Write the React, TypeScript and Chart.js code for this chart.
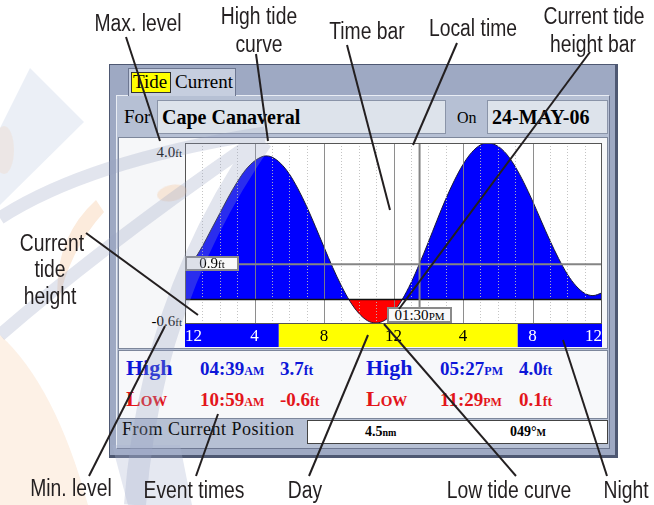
import React, { useEffect, useRef } from "react";
import { Chart, registerables } from "chart.js";

Chart.register(...registerables);

// ---------- data ----------
const HOURS = [0, 0.5, 1, 1.5, 2, 2.5, 3, 3.5, 4, 4.5, 4.65, 5, 5.5, 6, 6.5, 7, 7.5, 8, 8.5, 9, 9.5, 10, 10.5, 10.98, 11.5, 12, 12.5, 13, 13.5, 14, 14.5, 15, 15.5, 16, 16.5, 17, 17.4, 18, 18.5, 19, 19.5, 20, 20.5, 21, 21.5, 22, 22.5, 23, 23.48, 24];
const TIDE_FT = [0.72, 1.0, 1.36, 1.78, 2.2, 2.62, 3.0, 3.32, 3.54, 3.66, 3.67, 3.64, 3.48, 3.21, 2.83, 2.38, 1.87, 1.34, 0.82, 0.35, -0.05, -0.35, -0.54, -0.6, -0.53, -0.32, 0.0, 0.42, 0.92, 1.46, 2.02, 2.56, 3.04, 3.45, 3.76, 3.95, 4.0, 3.92, 3.72, 3.4, 2.99, 2.52, 2.01, 1.51, 1.05, 0.65, 0.35, 0.16, 0.1, 0.17];
const X_TICKS = [0, 4, 8, 12, 16, 20, 24];
const X_TICK_LABELS = ["12", "4", "8", "12", "4", "8", "12"];
const SUNRISE_H = 5.4;
const SUNSET_H = 19.15;
const Y_MIN = -0.6;
const Y_MAX = 4.0;
const NOW_H = 13.5;
const NOW_FT = 0.9;
const HIGH_TIMES = ["04:39", "05:27"];
const HIGH_AMPM = ["AM", "PM"];
const HIGH_FT = ["3.7", "4.0"];
const LOW_TIMES = ["10:59", "11:29"];
const LOW_AMPM = ["AM", "PM"];
const LOW_FT = ["-0.6", "0.1"];

const SERIF = "'Liberation Serif', 'Times New Roman', serif";
const SANS = "'Liberation Sans', Arial, sans-serif";
const INK = "#231f20";

const decor = {
  id: "tideDecor",
  beforeDraw(chart: any) {
    const { ctx, chartArea: a, scales } = chart;
    const x = scales.x;
    ctx.save();
    ctx.fillStyle = "#ffffff";
    ctx.fillRect(a.left, a.top, a.right - a.left, a.bottom - a.top);
    const segs: [number, number, string][] = [
      [0, SUNRISE_H, "#0000ff"],
      [SUNRISE_H, SUNSET_H, "#ffff00"],
      [SUNSET_H, 24, "#0000ff"],
    ];
    for (const [s, e, c] of segs) {
      const x0 = x.getPixelForValue(s);
      const x1 = x.getPixelForValue(e);
      ctx.fillStyle = c;
      ctx.fillRect(x0, a.bottom, x1 - x0, 24);
    }
    ctx.restore();
  },
  afterDatasetsDraw(chart: any) {
    const { ctx, chartArea: a, scales } = chart;
    const x = scales.x;
    const y = scales.y;
    ctx.save();
    for (let h = 1; h < 24; h++) {
      const px = Math.round(x.getPixelForValue(h)) + 0.5;
      ctx.beginPath();
      if (h % 4 === 0) {
        ctx.setLineDash([]);
        ctx.strokeStyle = "rgba(130,130,130,0.9)";
      } else {
        ctx.setLineDash([1, 2]);
        ctx.strokeStyle = "rgba(190,190,190,0.9)";
      }
      ctx.lineWidth = 1;
      ctx.moveTo(px, a.top);
      ctx.lineTo(px, a.bottom);
      ctx.stroke();
    }
    ctx.setLineDash([]);
    const y0 = y.getPixelForValue(0);
    ctx.strokeStyle = "#111";
    ctx.lineWidth = 1.5;
    ctx.beginPath();
    ctx.moveTo(a.left, y0);
    ctx.lineTo(a.right, y0);
    ctx.stroke();
    const yh = y.getPixelForValue(NOW_FT);
    ctx.strokeStyle = "#858585";
    ctx.lineWidth = 2;
    ctx.beginPath();
    ctx.moveTo(a.left, yh);
    ctx.lineTo(a.right, yh);
    ctx.stroke();
    const xt = x.getPixelForValue(NOW_H);
    ctx.beginPath();
    ctx.moveTo(xt, a.top);
    ctx.lineTo(xt, a.bottom - 10);
    ctx.stroke();
    ctx.strokeStyle = "#555";
    ctx.lineWidth = 1;
    ctx.strokeRect(a.left + 0.5, a.top + 0.5, a.right - a.left - 1, a.bottom - a.top);
    ctx.restore();
  },
};

function Ann({ x, y, text }: { x: number; y: number; text: string }) {
  return (
    <div
      style={{
        position: "absolute",
        left: x,
        top: y,
        transform: "translate(-50%,-50%) scaleX(0.84)",
        font: `23px ${SANS}`,
        color: INK,
        whiteSpace: "nowrap",
        lineHeight: 1,
      }}
    >
      {text}
    </div>
  );
}

function T({ x, y, size, children, style }: any) {
  return (
    <div
      style={{
        position: "absolute",
        left: x,
        top: y - 0.8375 * size,
        fontFamily: SERIF,
        fontSize: size,
        lineHeight: 1,
        whiteSpace: "nowrap",
        ...style,
      }}
    >
      {children}
    </div>
  );
}

const LINES: [number, number, number, number][] = [
  [126, 37, 160, 141],
  [256, 54, 268, 141],
  [347, 45, 390, 210],
  [457, 43, 413, 145],
  [590, 52, 399, 309],
  [86, 233, 198, 315],
  [165, 326, 89, 476],
  [218, 414, 196, 476],
  [368, 335, 309, 476],
  [384, 324, 516, 476],
  [563, 340, 607, 476],
];

export default function App() {
  const ref = useRef<HTMLCanvasElement>(null);
  useEffect(() => {
    const chart = new Chart(ref.current as HTMLCanvasElement, {
      type: "line",
      data: {
        datasets: [
          {
            data: HOURS.map((h, i) => ({ x: h, y: TIDE_FT[i] })),
            borderColor: "#1a1a3a",
            borderWidth: 1,
            pointRadius: 0,
            cubicInterpolationMode: "monotone",
            fill: { target: { value: 0 }, above: "#0000ff", below: "#ff0000" },
          } as any,
        ],
      },
      options: {
        animation: false,
        responsive: false,
        maintainAspectRatio: false,
        events: [],
        layout: { padding: { left: 185, top: 143, right: 52, bottom: 158 } },
        plugins: { legend: { display: false }, tooltip: { enabled: false } },
        scales: {
          x: {
            type: "linear",
            min: 0,
            max: 24,
            position: "bottom",
            afterBuildTicks: (s: any) => {
              s.ticks = X_TICKS.map((v) => ({ value: v }));
            },
            afterFit: (s: any) => {
              s.height = 24;
            },
            grid: { display: false, drawTicks: false },
            border: { display: false },
            ticks: {
              autoSkip: false,
              maxRotation: 0,
              align: "inner",
              padding: 3,
              callback: (_v: any, i: number) => X_TICK_LABELS[i],
              color: (c: any) =>
                c.tick && c.tick.value > SUNRISE_H && c.tick.value < SUNSET_H ? "#000" : "#fff",
              font: { family: "Liberation Serif", size: 17 },
            },
          } as any,
          y: { display: false, min: Y_MIN, max: Y_MAX },
        },
      },
      plugins: [decor],
    });
    return () => chart.destroy();
  }, []);

  const abs = (l: number, t: number, w: number, h: number, extra: any = {}) => ({
    position: "absolute" as const,
    left: l,
    top: t,
    width: w,
    height: h,
    boxSizing: "border-box" as const,
    ...extra,
  });

  const blue = "#0d17d8";
  const red = "#e3151b";

  return (
    <div style={abs(0, 0, 654, 505, { background: "#fff", overflow: "hidden" })}>
      {/* device frame */}
      <div style={abs(109, 64, 509, 394, { background: "#9ea9c3", border: "1px solid #4e5872", borderRightWidth: 3, borderBottomWidth: 3 })} />
      <div style={abs(116, 95, 494, 354, { background: "#b6c0d4", borderTop: "1px solid #e9edf4", borderLeft: "1px solid #e9edf4", borderRight: "1px solid #6d7791", borderBottom: "1px solid #6d7791" })} />
      {/* tabs */}
      <div style={abs(128, 68, 108, 28, { background: "#c6cedf", border: "1px solid #6d7791", borderBottom: "none" })} />
      <div style={abs(131, 72, 40, 21, { background: "#ffff00", border: "1px solid #333" })} />
      <T x={133} y={88} size={19}>Tide</T>
      <T x={175} y={88} size={19}>Current</T>
      {/* For row */}
      <T x={124} y={123} size={19}>For</T>
      <div style={abs(157, 100, 289, 34, { background: "#dde3eb", border: "1px solid #8a94a8" })} />
      <T x={162} y={124} size={20} style={{ fontWeight: "bold" }}>Cape Canaveral</T>
      <T x={457} y={123} size={16}>On</T>
      <div style={abs(487, 100, 121, 34, { background: "#dde3eb", border: "1px solid #8a94a8" })} />
      <T x={492} y={124} size={20} style={{ fontWeight: "bold" }}>24-MAY-06</T>
      {/* chart panel */}
      <div style={abs(118, 137, 490, 212, { background: "#f6f7f9", border: "1px solid #7d879b" })} />
      <div style={{ position: "absolute", right: 654 - 182, top: 144, font: `15px ${SERIF}`, lineHeight: "16px", whiteSpace: "nowrap" }}>
        4.0<span style={{ fontSize: 11 }}>ft</span>
      </div>
      <div style={{ position: "absolute", right: 654 - 182, top: 313, font: `15px ${SERIF}`, lineHeight: "16px", whiteSpace: "nowrap" }}>
        -0.6<span style={{ fontSize: 11 }}>ft</span>
      </div>
      {/* table */}
      <div style={abs(118, 350, 490, 69, { background: "#f7f8fa", border: "1px solid #7d879b" })} />
      {[0, 1].map((i) => (
        <React.Fragment key={"h" + i}>
          <T x={126 + i * 240} y={375} size={22} style={{ color: blue, fontWeight: "bold" }}>High</T>
          <T x={200 + i * 240} y={375} size={19} style={{ color: blue, fontWeight: "bold" }}>
            {HIGH_TIMES[i]}
            <span style={{ fontSize: 12 }}>{HIGH_AMPM[i]}</span>
          </T>
          <T x={280 + i * 239} y={375} size={19} style={{ color: blue, fontWeight: "bold" }}>
            {HIGH_FT[i]}
            <span style={{ fontSize: 14 }}>ft</span>
          </T>
          <T x={126 + i * 240} y={406} size={22} style={{ color: red, fontWeight: "bold", fontVariant: "small-caps" }}>Low</T>
          <T x={200 + i * 240} y={406} size={19} style={{ color: red, fontWeight: "bold" }}>
            {LOW_TIMES[i]}
            <span style={{ fontSize: 12 }}>{LOW_AMPM[i]}</span>
          </T>
          <T x={280 + i * 239} y={406} size={19} style={{ color: red, fontWeight: "bold" }}>
            {LOW_FT[i]}
            <span style={{ fontSize: 14 }}>ft</span>
          </T>
        </React.Fragment>
      ))}
      {/* from row */}
      <T x={122} y={435} size={18} style={{ letterSpacing: 0.5, color: "#111" }}>From Current Position</T>
      <div style={abs(307, 420, 301, 24, { background: "#fff", border: "1px solid #444" })} />
      <T x={365} y={437} size={14} style={{ fontWeight: "bold" }}>
        4.5<span style={{ fontSize: 10 }}>nm</span>
      </T>
      <T x={510} y={437} size={14} style={{ fontWeight: "bold" }}>
        049°<span style={{ fontSize: 10 }}>M</span>
      </T>

      <canvas ref={ref} width={654} height={505} style={abs(0, 0, 654, 505)} />

      {/* value boxes */}
      <div style={abs(185, 256, 54, 15, { background: "#f9f9f9", border: "2px solid #8a8a8a", font: `15px ${SERIF}`, lineHeight: "11px", textAlign: "center" })}>
        0.9<span style={{ fontSize: 11 }}>ft</span>
      </div>
      <div style={abs(387, 307, 65, 16, { background: "#f9f9f9", border: "2px solid #8a8a8a", font: `15px ${SERIF}`, lineHeight: "12px", textAlign: "center" })}>
        01:30<span style={{ fontSize: 11 }}>PM</span>
      </div>

      {/* watermark */}
      <svg width={654} height={505} style={{ position: "absolute", left: 0, top: 0, pointerEvents: "none" }}>
        <path d="M30,68 L84,122 L0,205 L0,128 Z" fill="#c5d0e4" opacity={0.35} />
        <g fill="#f5c59a" opacity={0.35}>
          <ellipse cx={172} cy={193} rx={15} ry={8} transform="rotate(-12 172 193)" />
          <path d="M96,200 Q52,240 58,305 Q68,252 104,212 Z" />
          <path d="M0,335 Q55,385 88,505 L0,505 Z" opacity={0.7} />
          <ellipse cx={4} cy={150} rx={10} ry={24} opacity={0.5} />
        </g>
        <g fill="none" stroke="#98a2c2" opacity={0.28}>
          <path d="M0,218 Q90,160 265,133" strokeWidth={13} />
          <path d="M0,335 Q110,240 262,136" strokeWidth={13} />
          <path d="M262,140 Q150,300 135,505" strokeWidth={22} />
        </g>
        <path d="M112,445 L180,445 L192,505 L128,505 Z" fill="#a9b3cf" opacity={0.3} />
      </svg>

      {/* leader lines */}
      <svg width={654} height={505} style={{ position: "absolute", left: 0, top: 0, pointerEvents: "none" }}>
        {LINES.map(([x1, y1, x2, y2], i) => (
          <line key={i} x1={x1} y1={y1} x2={x2} y2={y2} stroke={INK} strokeWidth={2} />
        ))}
      </svg>

      {/* annotation labels */}
      <Ann x={138} y={23} text="Max. level" />
      <Ann x={259} y={16} text="High tide" />
      <Ann x={259} y={44} text="curve" />
      <Ann x={367} y={31} text="Time bar" />
      <Ann x={473} y={28} text="Local time" />
      <Ann x={594} y={16} text="Current tide" />
      <Ann x={593} y={44} text="height bar" />
      <Ann x={52} y={243} text="Current" />
      <Ann x={50} y={269} text="tide" />
      <Ann x={50} y={296} text="height" />
      <Ann x={71} y={488} text="Min. level" />
      <Ann x={194} y={490} text="Event times" />
      <Ann x={305} y={490} text="Day" />
      <Ann x={509} y={490} text="Low tide curve" />
      <Ann x={626} y={490} text="Night" />
    </div>
  );
}
